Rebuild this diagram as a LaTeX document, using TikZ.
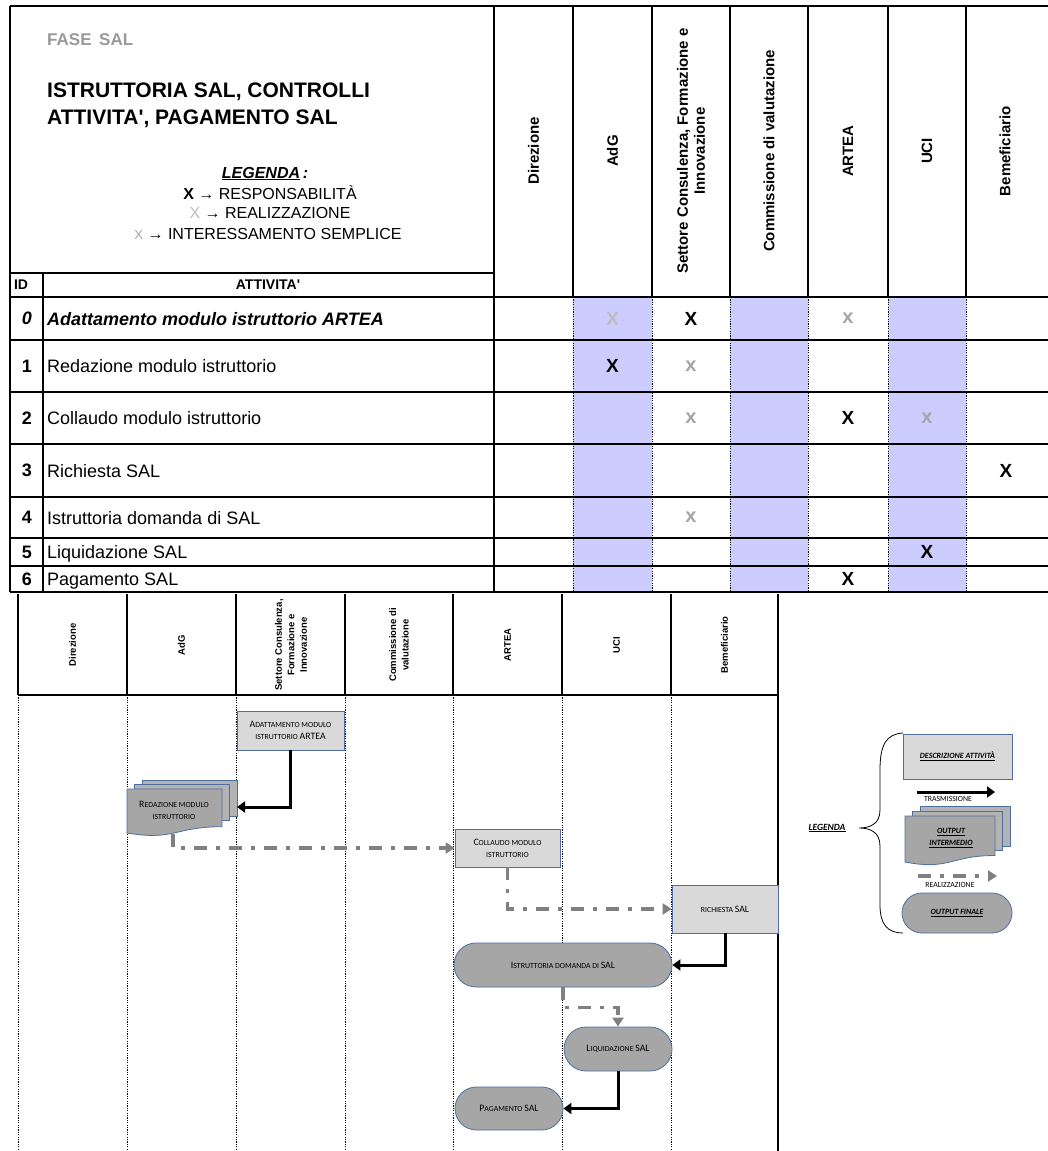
\documentclass[tikz,border=0pt]{standalone}
\usepackage{fontspec}
\setmainfont{Liberation Sans}[Ligatures=TeXOff]
\newfontfamily\calib{Carlito}
\usetikzlibrary{arrows.meta,shapes.misc}
\definecolor{lav}{HTML}{CCCCFF}
\definecolor{boxblue}{HTML}{4F6FA0}
\definecolor{boxlight}{HTML}{D9D9D9}
\definecolor{boxdark}{HTML}{A6A6A6}
\definecolor{arrgray}{HTML}{808080}
\definecolor{titlegray}{HTML}{999999}
\definecolor{xlight}{HTML}{BDBDBD}
\definecolor{xsmall}{HTML}{A5A5A5}
\newcommand\fsz[2]{\fontsize{#1}{#2}\selectfont}
\newcommand\BC[1]{{\fsz{9.8}{11}#1}}
\tikzset{
  gridln/.style={line width=1.4pt},
  thickln/.style={line width=2.2pt},
  dotln/.style={line width=0.9pt, dash pattern=on 1.2pt off 1.2pt},
  hdrtop/.style={rotate=90, align=center, font=\bfseries\fsz{15}{17}},
  hdrlow/.style={rotate=90, align=center, font=\bfseries\fsz{9.5}{12.5}},
  rowtxt/.style={anchor=base west, inner sep=0, font=\fsz{18}{20}},
  idtxt/.style={inner sep=0, font=\bfseries\fsz{18}{20}},
  bigx/.style={inner sep=0, font=\bfseries\fsz{19}{19}},
  grx/.style={inner sep=0, text=xlight, font=\bfseries\fsz{19}{19}},
  smx/.style={inner sep=0, text=xsmall, font=\bfseries\fsz{20}{20}},
  actbox/.style={rectangle, draw=boxblue, fill=boxlight, line width=0.8pt, inner sep=0, align=center, font=\calib\fsz{7.8}{12}},
  termbox/.style={rounded rectangle, draw=boxblue, fill=boxdark, line width=0.8pt, inner sep=0, align=center, font=\calib\fsz{7.8}{12}},
  pagefront/.style={draw=boxblue, fill=boxdark, line width=0.8pt},
  pageback/.style={draw=boxblue, fill=boxdark!85!white, line width=0.8pt},
  blkarrow/.style={line width=3pt, -{Triangle[length=8pt,width=11pt]}},
  gryarrow/.style={draw=arrgray, line width=3.5pt, dash pattern=on 13pt off 9pt on 4pt off 9pt, -{Triangle[length=9pt,width=11pt,fill=arrgray]}},
  legtxt/.style={inner sep=0, font=\calib\fsz{7.8}{10}},
}
\begin{document}
\begin{tikzpicture}[x=1pt,y=-1pt]
\fill[white] (0,0) rectangle (1048,1151);
\useasboundingbox (0,0) rectangle (1048,1151);

% ===== top table =====
\foreach \a/\b in {573/652,730/808,888/966} \fill[lav] (\a,297) rectangle (\b,592);
\foreach \x in {573,652,730,808,888,966} \draw[dotln] (\x,297) -- (\x,592);
\foreach \x in {573,652,730,808,888,966} \draw[gridln] (\x,6) -- (\x,297);
\draw[gridln] (10,6) -- (1048,6);
\draw[gridln] (10,6) -- (10,592);
\draw[gridln] (494,6) -- (494,592);
\draw[gridln] (10,273) -- (494,273);
\draw[gridln] (43,273) -- (43,592);
\draw[thickln] (10,297) -- (1048,297);
\foreach \y in {340,392,444,497,538,566,592} \draw[gridln] (10,\y) -- (1048,\y);

% title
\node[anchor=base west, inner sep=0, text=titlegray, font=\bfseries\fsz{17}{17}] (fase) at (47,45) {FASE\hspace{0.45em}SAL};
\node[anchor=base west, inner sep=0, font=\bfseries\fsz{21}{21}] (tit1) at (47,97.5) {ISTRUTTORIA SAL, CONTROLLI};
\node[anchor=base west, inner sep=0, font=\bfseries\fsz{21}{21}] (tit2) at (47,124.5) {ATTIVITA', PAGAMENTO SAL};
\node[anchor=base, inner sep=0, font=\bfseries\itshape\fsz{16}{16}] (leg0) at (265,178) {\underline{LEGENDA}\,:};
\node[anchor=base, inner sep=0, font=\fsz{16}{16}] (leg1) at (270,199) {\textbf{X} → RESPONSABILITÀ};
\node[anchor=base, inner sep=0, font=\fsz{16}{16}] (leg2) at (270,218) {{\color{xlight}X} → REALIZZAZIONE};
\node[anchor=base, inner sep=0, font=\fsz{16}{16}] (leg3) at (268,239) {{\color{xsmall}\fsz{13}{13}X} → INTERESSAMENTO SEMPLICE};
\node[inner sep=0, font=\bfseries\fsz{14}{14}] (idh) at (21,285) {ID};
\node[inner sep=0, font=\bfseries\fsz{14}{14}] (atth) at (268,285) {ATTIVITA'};

% column headers
\node[hdrtop] (hdir) at (533.5,151) {Direzione};
\node[hdrtop] (hadg) at (612.5,151) {AdG};
\node[hdrtop] (hset) at (691,151) {Settore Consulenza, Formazione e\\Innovazione};
\node[hdrtop] (hcom) at (769,151) {Commissione di valutazione};
\node[hdrtop] (hart) at (848,151) {ARTEA};
\node[hdrtop] (huci) at (927,151) {UCI};
\node[hdrtop] (hben) at (1005,151) {Bemeficiario};

% rows
\node[idtxt, font=\bfseries\itshape\fsz{18}{20}] (id0) at (27,318.5) {0};
\node[idtxt] (id1) at (27,366) {1};
\node[idtxt] (id2) at (27,418) {2};
\node[idtxt] (id3) at (27,470.5) {3};
\node[idtxt] (id4) at (27,517.5) {4};
\node[idtxt] (id5) at (27,552) {5};
\node[idtxt] (id6) at (27,579) {6};
\node[rowtxt, font=\bfseries\itshape\fsz{18}{20}] (r0) at (47,325) {Adattamento modulo istruttorio ARTEA};
\node[rowtxt] (r1) at (47,372.5) {Redazione modulo istruttorio};
\node[rowtxt] (r2) at (47,424.5) {Collaudo modulo istruttorio};
\node[rowtxt] (r3) at (47,477) {Richiesta SAL};
\node[rowtxt] (r4) at (47,524) {Istruttoria domanda di SAL};
\node[rowtxt] (r5) at (47,558.5) {Liquidazione SAL};
\node[rowtxt] (r6) at (47,585.5) {Pagamento SAL};

% marks
\node[grx] (m0a) at (612.5,318.5) {X};
\node[bigx] (m0b) at (691,318.5) {X};
\node[smx] (m0c) at (848,318.5) {x};
\node[bigx] (m1a) at (612.5,366) {X};
\node[smx] (m1b) at (691,366) {x};
\node[smx] (m2a) at (691,418) {x};
\node[bigx] (m2b) at (848,418) {X};
\node[smx] (m2c) at (927,418) {x};
\node[bigx] (m3a) at (1006,470.5) {X};
\node[smx] (m4a) at (691,517.5) {x};
\node[bigx] (m5a) at (927,552) {X};
\node[bigx] (m6a) at (848,579) {X};

% ===== lower swimlanes =====
\foreach \x in {18,127,236,345,453,562,671} \draw[gridln] (\x,594) -- (\x,695);
\foreach \x in {18,127,236,345,453,562,671} \draw[dotln] (\x,695) -- (\x,1151);
\draw[gridln] (778,594) -- (778,1151);
\draw[thickln] (18,695) -- (778,695);

\node[hdrlow] (ldir) at (72.5,645) {Direzione};
\node[hdrlow] (ladg) at (181.5,645) {AdG};
\node[hdrlow] (lset) at (291,645) {Settore Consulenza,\\Formazione e\\Innovazione};
\node[hdrlow] (lcom) at (399,645) {Commissione di\\valutazione};
\node[hdrlow] (lart) at (507.5,645) {ARTEA};
\node[hdrlow] (luci) at (616.5,645) {UCI};
\node[hdrlow] (lben) at (724.5,645) {Bemeficiario};

% flow nodes
\node[actbox, minimum width=107pt, minimum height=39pt] (ada) at (290.5,730.5) {\BC{A}DATTAMENTO MODULO\\ISTRUTTORIO \BC{ARTEA}};
% multidocument Redazione
\draw[pageback] (142,780) rectangle (237,816);
\draw[pageback] (134.5,784.5) rectangle (229.5,820);
\draw[pagefront] (127,789) -- (222,789) -- (222,826.7) .. controls (174.5,826.7) and (174.5,841) .. (127,833) -- cycle;
\node[inner sep=0, align=center, font=\calib\fsz{7.8}{12}] (red) at (174,810) {\BC{R}EDAZIONE MODULO\\ISTRUTTORIO};
\coordinate (redR) at (237,807);
\coordinate (redB) at (173,834);

\node[actbox, minimum width=105pt, minimum height=38pt] (col) at (507.5,848) {\BC{C}OLLAUDO MODULO\\ISTRUTTORIO};
\node[actbox, minimum width=106pt, minimum height=48pt] (ric) at (725,909) {RICHIESTA \BC{SAL}};
\node[termbox, minimum width=218pt, minimum height=44pt] (ist) at (563,965) {\BC{I}STRUTTORIA DOMANDA DI \BC{SAL}};
\node[termbox, minimum width=108pt, minimum height=44pt] (liq) at (618,1049) {\BC{L}IQUIDAZIONE \BC{SAL}};
\node[termbox, minimum width=108pt, minimum height=43pt] (pag) at (509,1108.5) {\BC{P}AGAMENTO \BC{SAL}};

% connectors
\draw[blkarrow] (ada.south) |- (redR);
\draw[gryarrow] (redB) |- (col.west);
\draw[gryarrow] (col.south) |- (ric.west);
\draw[blkarrow] (ric.south) |- (ist.east);
\draw[gryarrow] (ist.south) -- ++(0,20) -| (liq.north);
\draw[blkarrow] (liq.south) |- (pag.east);

% ===== legend =====
\node[inner sep=0, font=\calib\bfseries\itshape\fsz{9.5}{10}] (legenda) at (827,828) {\underline{LEGENDA}};
\draw[line width=0.8pt] (903,733) .. controls (886,734) and (880,745) .. (880,770) -- (880,810)
  .. controls (880,824) and (870,828) .. (859,828)
  .. controls (870,828) and (880,832) .. (880,846) -- (880,905)
  .. controls (880,925) and (888,933) .. (903,933);
\node[actbox, minimum width=109pt, minimum height=45pt, font=\calib\bfseries\itshape\fsz{8}{10}] (desc) at (957.5,756.5) {\underline{DESCRIZIONE ATTIVITÀ}};
\coordinate (t1) at (917,792);
\coordinate (t2) at (995,792);
\draw[blkarrow] (t1) -- (t2);
\node[legtxt] (ttrans) at (948,798.5) {TRASMISSIONE};
\draw[pageback] (920,806) rectangle (1010,846);
\draw[pageback] (912.5,811) rectangle (1002.5,850);
\draw[pagefront] (905,816) -- (995,816) -- (995,855.5) .. controls (950,855.5) and (950,870.6) .. (905,862) -- cycle;
\node[inner sep=0, align=center, font=\calib\bfseries\itshape\fsz{8}{12}] (outi) at (951,838) {\underline{OUTPUT}\\\underline{INTERMEDIO}};
\coordinate (g1) at (918,876);
\coordinate (g2) at (997,876);
\draw[gryarrow] (g1) -- (g2);
\node[legtxt] (treal) at (950,885) {REALIZZAZIONE};
\node[termbox, minimum width=110pt, minimum height=40pt, font=\calib\bfseries\itshape\fsz{8}{10}] (fin) at (957,913) {\underline{OUTPUT FINALE}};
\end{tikzpicture}
\end{document}
